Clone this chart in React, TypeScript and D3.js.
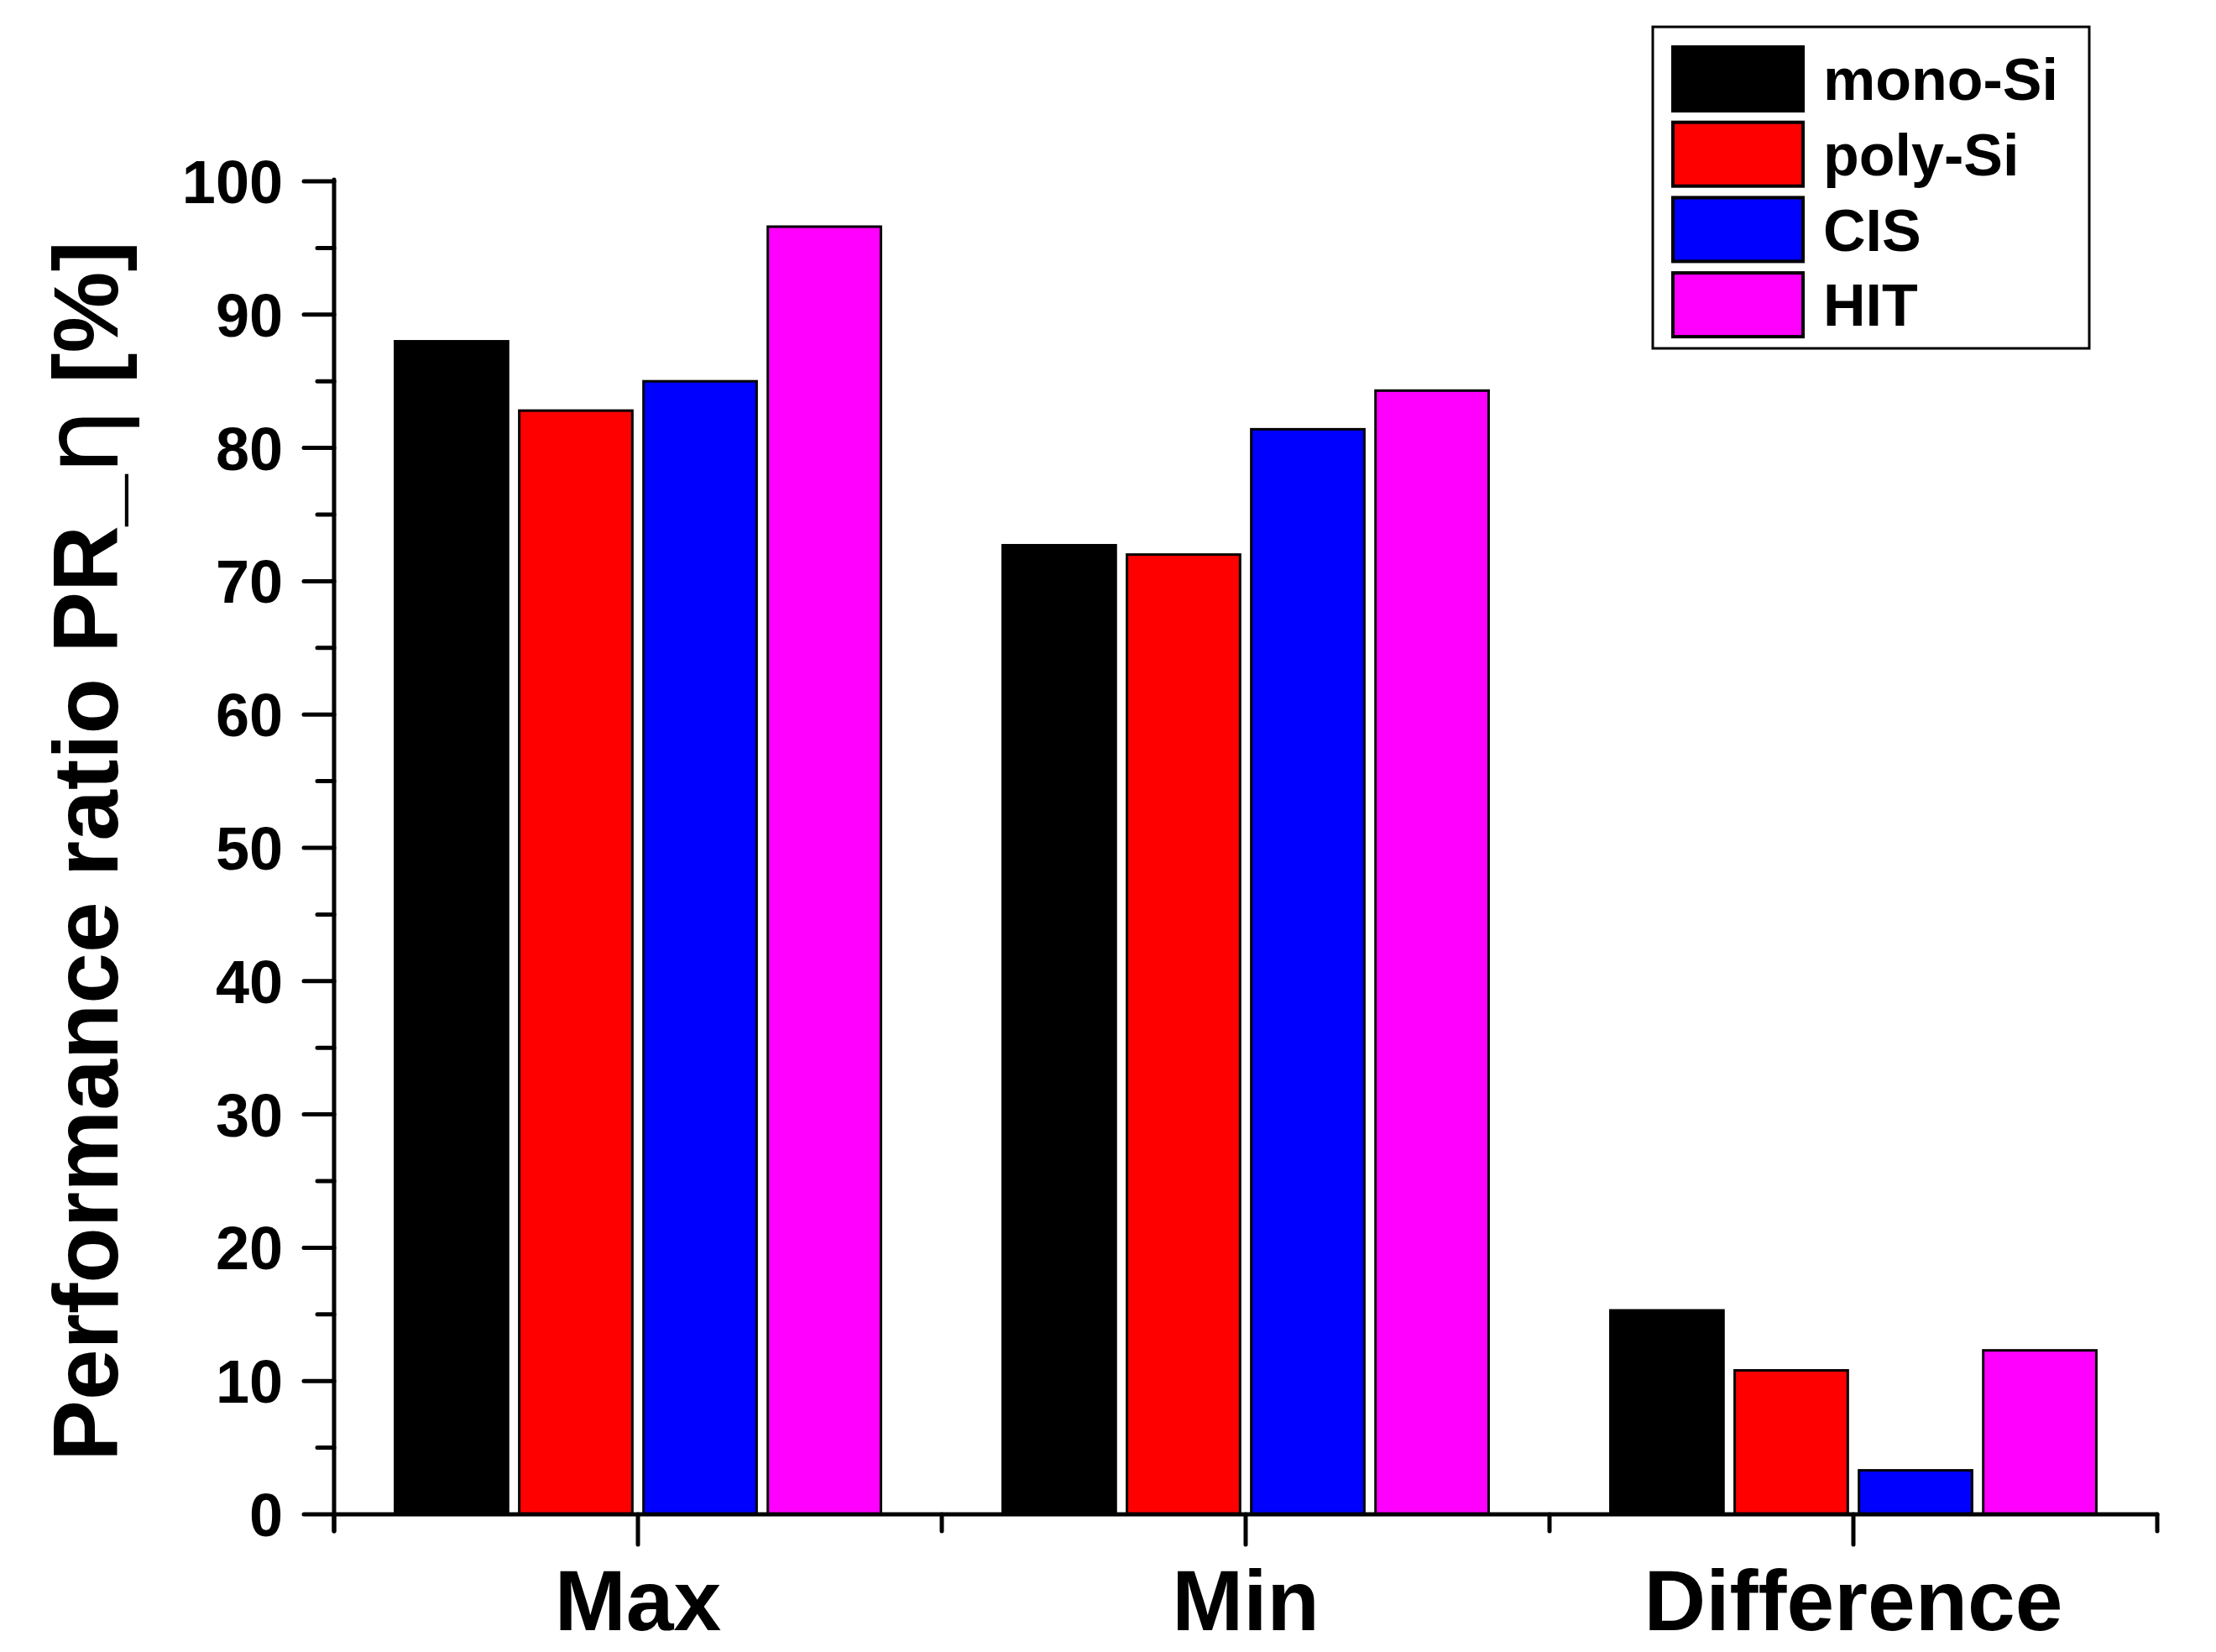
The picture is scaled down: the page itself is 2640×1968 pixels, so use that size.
import * as d3 from 'd3';

const categories = ['Max', 'Min', 'Difference'];
const seriesNames = ['mono-Si', 'poly-Si', 'CIS', 'HIT'];
const seriesColors = ['#000000', '#ff0000', '#0000ff', '#ff00ff'];
const monoSi = [88.0, 72.7, 15.3];
const polySi = [82.8, 72.0, 10.8];
const cis = [85.0, 81.4, 3.3];
const hit = [96.6, 84.3, 12.3];
const yTicks = [0, 10, 20, 30, 40, 50, 60, 70, 80, 90, 100];

const W = 2640;
const H = 1968;
const FONT = '"Liberation Sans", Arial, Helvetica, sans-serif';

export default function App() {
  const series = [monoSi, polySi, cis, hit];
  const left = 398;
  const right = 2570;
  const bottom = 1804;
  const top = 216;

  const x = d3.scaleBand().domain(categories).range([left, right]).padding(0);
  const inner = d3
    .scaleBand()
    .domain(seriesNames)
    .range([0, x.bandwidth()])
    .paddingInner(0.09)
    .paddingOuter(0.49);
  const y = d3.scaleLinear().domain([0, 100]).range([bottom, top]);
  const minorY = d3.range(5, 100, 10);

  const boundaries = [...categories.map((c) => x(c)!), right];

  return (
    <svg
      width={W}
      height={H}
      style={{ position: 'absolute', left: 0, top: 0, background: '#fff' }}
      fontFamily={FONT}
    >
      {/* bars */}
      {categories.map((c, ci) =>
        seriesNames.map((s, si) => (
          <rect
            key={c + s}
            x={x(c)! + inner(s)!}
            y={y(series[si][ci])}
            width={inner.bandwidth()}
            height={bottom - y(series[si][ci])}
            fill={seriesColors[si]}
            stroke="#000"
            strokeWidth={3}
          />
        ))
      )}

      {/* y axis */}
      <line x1={left} x2={left} y1={top - 2} y2={bottom + 20} stroke="#000" strokeWidth={5} strokeLinecap="round" />
      {yTicks.map((t) => (
        <g key={t}>
          <line x1={left - 36} x2={left} y1={y(t)} y2={y(t)} stroke="#000" strokeWidth={5} strokeLinecap="round" />
          <text
            x={337}
            y={y(t)}
            dy="0.36em"
            textAnchor="end"
            fontSize={72}
            fontWeight="bold"
          >
            {t}
          </text>
        </g>
      ))}
      {minorY.map((t) => (
        <line key={t} x1={left - 20} x2={left} y1={y(t)} y2={y(t)} stroke="#000" strokeWidth={5} strokeLinecap="round" />
      ))}

      {/* x axis */}
      <line x1={left} x2={right} y1={bottom} y2={bottom} stroke="#000" strokeWidth={5} strokeLinecap="round" />
      {boundaries.map((bx, i) => (
        <line key={i} x1={bx} x2={bx} y1={bottom} y2={bottom + 20} stroke="#000" strokeWidth={5} strokeLinecap="round" />
      ))}
      {categories.map((c) => (
        <g key={c}>
          <line
            x1={x(c)! + x.bandwidth() / 2}
            x2={x(c)! + x.bandwidth() / 2}
            y1={bottom}
            y2={bottom + 36}
            stroke="#000"
            strokeWidth={5}
            strokeLinecap="round"
          />
          <text
            x={x(c)! + x.bandwidth() / 2}
            y={1942}
            textAnchor="middle"
            fontSize={102}
            fontWeight="bold"
          >
            {c}
          </text>
        </g>
      ))}

      {/* y title */}
      <text
        transform={`translate(140, 1014) rotate(-90)`}
        textAnchor="middle"
        fontSize={109}
        fontWeight="bold"
      >
        Performance ratio PR_<tspan fontWeight="normal" fontSize={124} fontFamily='"DejaVu Sans", sans-serif'>η</tspan> [%]
      </text>

      {/* legend */}
      <rect x={1969} y={32} width={520} height={383} fill="#fff" stroke="#000" strokeWidth={3} />
      {seriesNames.map((s, i) => (
        <g key={s} transform={`translate(0, ${56 + i * 89.7})`}>
          <rect x={1993} y={0} width={155} height={76} fill={seriesColors[i]} stroke="#000" strokeWidth={4} />
          <text x={2172} y={38} dy="0.36em" fontSize={70} fontWeight="bold">
            {s}
          </text>
        </g>
      ))}
    </svg>
  );
}
